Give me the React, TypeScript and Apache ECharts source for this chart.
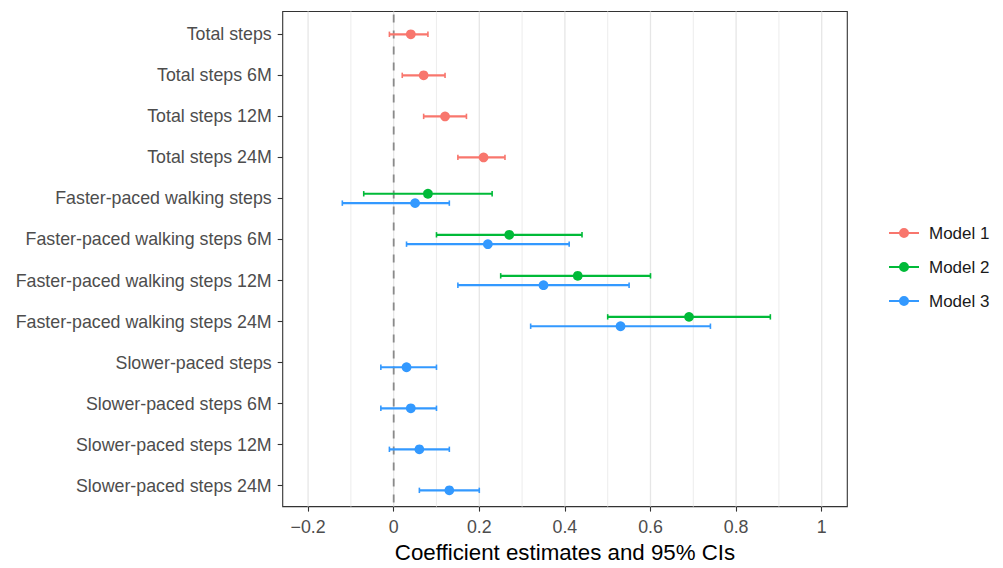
import { useEffect, useRef } from "react";
import * as echarts from "echarts";

const categories = [
  "Total steps",
  "Total steps 6M",
  "Total steps 12M",
  "Total steps 24M",
  "Faster-paced walking steps",
  "Faster-paced walking steps 6M",
  "Faster-paced walking steps 12M",
  "Faster-paced walking steps 24M",
  "Slower-paced steps",
  "Slower-paced steps 6M",
  "Slower-paced steps 12M",
  "Slower-paced steps 24M",
];

const xTicks = [-0.2, 0, 0.2, 0.4, 0.6, 0.8, 1];
const minorBreaks = [-0.1, 0.1, 0.3, 0.5, 0.7, 0.9];
const zeroLine = [0];

const modelNames = ["Model 1", "Model 2", "Model 3"];
const modelColors = ["#F8766D", "#00BA38", "#3399FF"];

const model1Cats = ["Total steps", "Total steps 6M", "Total steps 12M", "Total steps 24M"];
const model1Est = [0.04, 0.07, 0.12, 0.21];
const model1Lo = [-0.01, 0.02, 0.07, 0.15];
const model1Hi = [0.08, 0.12, 0.17, 0.26];

const model2Cats = [
  "Faster-paced walking steps",
  "Faster-paced walking steps 6M",
  "Faster-paced walking steps 12M",
  "Faster-paced walking steps 24M",
];
const model2Est = [0.08, 0.27, 0.43, 0.69];
const model2Lo = [-0.07, 0.1, 0.25, 0.5];
const model2Hi = [0.23, 0.44, 0.6, 0.88];

const model3Cats = [
  "Faster-paced walking steps",
  "Faster-paced walking steps 6M",
  "Faster-paced walking steps 12M",
  "Faster-paced walking steps 24M",
  "Slower-paced steps",
  "Slower-paced steps 6M",
  "Slower-paced steps 12M",
  "Slower-paced steps 24M",
];
const model3Est = [0.05, 0.22, 0.35, 0.53, 0.03, 0.04, 0.06, 0.13];
const model3Lo = [-0.12, 0.03, 0.15, 0.32, -0.03, -0.03, -0.01, 0.06];
const model3Hi = [0.13, 0.41, 0.55, 0.74, 0.1, 0.1, 0.13, 0.2];

const FONT = "'Liberation Sans', Arial, Helvetica, sans-serif";

export default function App() {
  const ref = useRef<HTMLDivElement>(null);

  useEffect(() => {
    document.body.style.margin = "0";
    const chart = echarts.init(ref.current!, null, { renderer: "svg" });

    const xMin = -0.2593;
    const xMax = 1.0598;
    const gLeft = 282.7;
    const gWidth = 564.6;

    const models = [
      { cats: model1Cats, est: model1Est, lo: model1Lo, hi: model1Hi, offset: 0 },
      { cats: model2Cats, est: model2Est, lo: model2Lo, hi: model2Hi, offset: -0.114 },
      { cats: model3Cats, est: model3Est, lo: model3Lo, hi: model3Hi, offset: 0.114 },
    ];

    const modelSeries = models.map((m, k) => {
      const color = modelColors[k];
      return {
        type: "custom",
        name: modelNames[k],
        xAxisIndex: 1,
        yAxisIndex: 1,
        z: 5,
        itemStyle: { color },
        encode: { x: [1, 2, 3], y: 0 },
        data: m.cats.map((c, i) => [categories.indexOf(c), m.lo[i], m.est[i], m.hi[i]]),
        renderItem: (_params: any, api: any) => {
          const ci = api.value(0);
          const band = api.size([0, 1])[1];
          const dy = m.offset * band;
          const a = api.coord([api.value(1), ci]);
          const b = api.coord([api.value(2), ci]);
          const c = api.coord([api.value(3), ci]);
          const y = a[1] + dy;
          const cap = 2.7;
          return {
            type: "group",
            children: [
              { type: "line", shape: { x1: a[0], y1: y, x2: c[0], y2: y }, style: { stroke: color, lineWidth: 2.2 } },
              { type: "line", shape: { x1: a[0], y1: y - cap, x2: a[0], y2: y + cap }, style: { stroke: color, lineWidth: 1.6 } },
              { type: "line", shape: { x1: c[0], y1: y - cap, x2: c[0], y2: y + cap }, style: { stroke: color, lineWidth: 1.6 } },
              { type: "circle", shape: { cx: b[0], cy: y, r: 4.9 }, style: { fill: color } },
            ],
          };
        },
      };
    });

    const gridSeries = (vals: number[], stroke: string, width: number, dash: any, z: number) => ({
      type: "custom",
      xAxisIndex: 0,
      yAxisIndex: 0,
      z,
      silent: true,
      encode: { x: 0 },
      data: vals.map((v) => [v]),
      renderItem: (_p: any, api: any) => {
        const v = api.value(0);
        const top = api.coord([v, 1]);
        const bot = api.coord([v, 0]);
        return {
          type: "line",
          shape: { x1: top[0], y1: top[1] + (dash ? 3 : 0), x2: bot[0], y2: bot[1] },
          style: { stroke, lineWidth: width, lineDash: dash },
        };
      },
    });

    const option: any = {
      animation: false,
      textStyle: { fontFamily: FONT },
      grid: [
        {
          left: gLeft,
          top: 11.5,
          width: gWidth,
          height: 499.2,
          show: true,
          borderColor: "#333333",
          borderWidth: 1.1,
          backgroundColor: "transparent",
        },
        { left: gLeft, top: 13.8, width: gWidth, height: 492.4 },
      ],
      xAxis: [
        {
          type: "value",
          gridIndex: 0,
          min: xMin,
          max: xMax,
          axisLine: { show: false, onZero: false },
          splitLine: { show: false },
          axisTick: { show: true, length: 5, lineStyle: { color: "#333333", width: 1.1 }, customValues: xTicks },
          axisLabel: {
            customValues: xTicks,
            color: "#4D4D4D",
            fontSize: 17.8,
            margin: 11.5,
            fontFamily: FONT,
            formatter: (v: number) => (v < 0 ? "\u2212" + Math.abs(v) : String(v)),
          },
          name: "Coefficient estimates and 95% CIs",
          nameLocation: "middle",
          nameGap: 27,
          nameTextStyle: { color: "#000000", fontSize: 22.3, fontFamily: FONT },
        },
        { type: "value", gridIndex: 1, min: xMin, max: xMax, show: false },
      ],
      yAxis: [
        { type: "value", gridIndex: 0, min: 0, max: 1, show: false },
        {
          type: "category",
          gridIndex: 1,
          data: categories,
          inverse: true,
          boundaryGap: true,
          position: "left",
          axisLine: { show: false, onZero: false },
          splitLine: { show: false },
          axisTick: { show: true, alignWithLabel: true, length: 5, lineStyle: { color: "#333333", width: 1.1 } },
          axisLabel: { color: "#4D4D4D", fontSize: 17.8, margin: 11, fontFamily: FONT },
        },
      ],
      legend: {
        orient: "vertical",
        left: 884,
        top: 218,
        itemWidth: 30,
        itemHeight: 10,
        itemGap: 14,
        data: modelNames,
        icon: "path://M0,4.1L30,4.1L30,5.9L0,5.9Z M20,5A5,5 0 1,1 10,5A5,5 0 1,1 20,5Z",
        textStyle: { fontSize: 17, color: "#1A1A1A", lineHeight: 20, padding: [0, 0, 0, 5], fontFamily: FONT },
        selectedMode: false,
      },
      series: [
        gridSeries(minorBreaks, "#EEEEEE", 1.1, null, 1),
        gridSeries(xTicks, "#E6E6E6", 1.3, null, 1),
        gridSeries(zeroLine, "#8A8A8A", 1.8, [8, 8], 2),
        ...modelSeries,
      ],
    };

    chart.setOption(option);
    return () => chart.dispose();
  }, []);

  return <div ref={ref} style={{ width: 1003, height: 568 }} />;
}
